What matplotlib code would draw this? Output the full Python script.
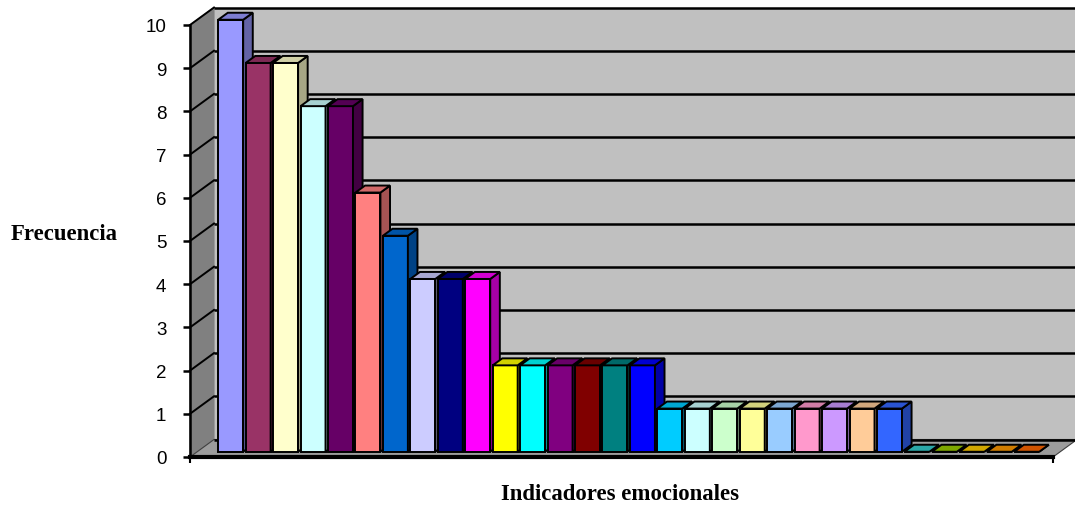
import numpy as np
import matplotlib.pyplot as plt
from matplotlib.patches import Polygon
from matplotlib.colors import to_rgb

# frecuencia de cada indicador emocional (ordenada de mayor a menor)
valores = [10, 9, 9, 8, 8, 6, 5, 4, 4, 4,
           2, 2, 2, 2, 2, 2,
           1, 1, 1, 1, 1, 1, 1, 1, 1,
           0, 0, 0, 0, 0]
colores = ['#9999ff', '#993366', '#ffffcc', '#ccffff', '#660066',
           '#ff8080', '#0066cc', '#ccccff', '#000080', '#ff00ff',
           '#ffff00', '#00ffff', '#800080', '#800000', '#008080',
           '#0000ff', '#00ccff', '#ccffff', '#ccffcc', '#ffff99',
           '#99ccff', '#ff99cc', '#cc99ff', '#ffcc99', '#3366ff',
           '#33cccc', '#99cc00', '#ffcc00', '#ff9900', '#ff6600']
yticks = list(range(0, 11))

# perspectiva oblicua estilo Excel (unidades de datos)
DX, DY = 0.874, 0.405      # profundidad total de la caja
X0, X1 = -1.22, 30.22      # borde frontal del suelo
ANCHO = 0.91               # ancho de cada barra
F0, F1 = 0.3, 0.7          # fraccion de profundidad que ocupan las barras
SUP, LAT = 0.82, 0.65      # sombreado de cara superior y lateral


def tono(c, k):
    return tuple(np.array(to_rgb(c)) * k)


fig = plt.figure(figsize=(10.75, 5.1), dpi=100)
ax = fig.add_axes([190 / 1075, 52 / 510, 885 / 1075, 450 / 510])
ax.set_xlim(X0, X0 + 885 / 27.45)
ax.set_ylim(0, 450 / 43.2)

top = yticks[-1]
# pared del fondo
ax.add_patch(Polygon([(X0 + DX, DY), (X1 + DX + 1, DY), (X1 + DX + 1, top + DY),
                      (X0 + DX, top + DY)], closed=True, fc='#c0c0c0', ec='none',
                     zorder=1, clip_on=False))
# pared izquierda
ax.add_patch(Polygon([(X0, 0), (X0 + DX, DY), (X0 + DX, top + DY), (X0, top)],
                     closed=True, fc='#808080', ec='#808080', lw=0.8, zorder=1,
                     clip_on=False))
# suelo
ax.add_patch(Polygon([(X0, 0), (X1, 0), (X1 + DX, DY), (X0 + DX, DY)],
                     closed=True, fc='#9c9c9c', ec='#404040', lw=0.8, zorder=1.2,
                     clip_on=False))

# lineas de division en ambas paredes
for k in yticks:
    ax.plot([X0 + DX, X1 + DX + 1], [k + DY, k + DY], color='black', lw=1.8,
            zorder=1.5, clip_on=False, solid_capstyle='butt')
    if k > 0:
        ax.plot([X0, X0 + DX], [k, k + DY], color='black', lw=1.4, zorder=1.5,
                clip_on=False)

# barras 3D: cara frontal, lateral y superior
dx, dy = (F1 - F0) * DX, (F1 - F0) * DY
for i, (v, c) in enumerate(zip(valores, colores)):
    z = 3 + i * 0.01
    xl = i - ANCHO / 2 + F0 * DX
    xr = xl + ANCHO
    y0 = F0 * DY
    ax.bar(xl, v, width=ANCHO, bottom=y0, align='edge', color=c,
           edgecolor='black', linewidth=1.4, zorder=z)
    ax.add_patch(Polygon([(xr, y0), (xr + dx, y0 + dy), (xr + dx, y0 + v + dy),
                          (xr, y0 + v)], closed=True, fc=tono(c, LAT),
                         ec='black', lw=1.4, zorder=z))
    ax.add_patch(Polygon([(xl, y0 + v), (xr, y0 + v), (xr + dx, y0 + v + dy),
                          (xl + dx, y0 + v + dy)], closed=True, fc=tono(c, SUP),
                         ec='black', lw=1.4, zorder=z))

for s in ['top', 'right']:
    ax.spines[s].set_visible(False)
ax.spines['left'].set_bounds(0, top)
ax.spines['left'].set_linewidth(1.8)
ax.spines['left'].set_zorder(2)
ax.spines['bottom'].set_bounds(X0, X1)
ax.spines['bottom'].set_linewidth(3)
ax.spines['bottom'].set_zorder(10)

ax.set_yticks(yticks)
ax.set_yticklabels([str(t) for t in yticks], fontsize=13.5,
                   fontfamily='Liberation Sans')
ax.tick_params(axis='y', direction='out', length=5, width=1.8, pad=12)
ax.set_xticks([X0, X1])
ax.set_xticklabels(['', ''])
ax.tick_params(axis='x', direction='out', length=4, width=1.5)

fuente = dict(fontfamily='Liberation Serif', fontweight='bold', fontsize=16.4)
ax.set_ylabel('Frecuencia', rotation=0, ha='center', va='center', **fuente)
ax.yaxis.set_label_coords((64 - 190) / 885, (458 - 235) / 450)
ax.set_xlabel('Indicadores emocionales', ha='center', va='center', **fuente)
ax.xaxis.set_label_coords((620 - 190) / 885, (458 - 495) / 450)

fig.savefig('out.png', dpi=100)
